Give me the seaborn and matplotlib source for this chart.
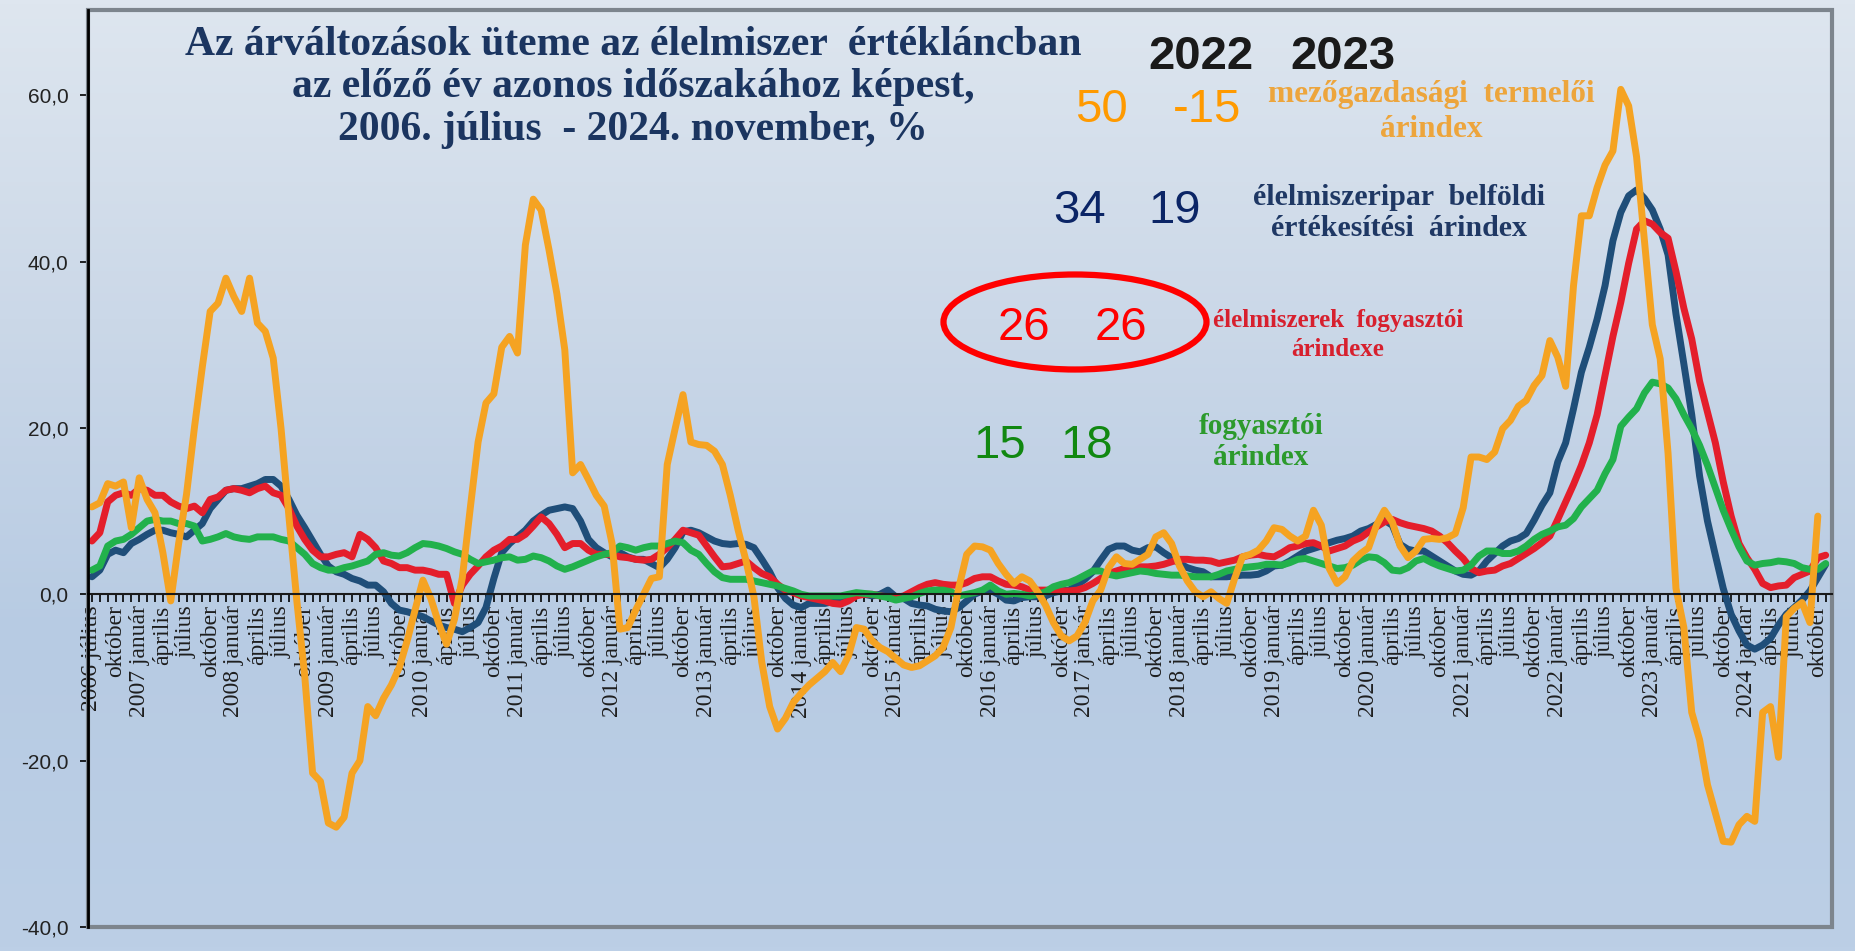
import numpy as np
import pandas as pd
import matplotlib
matplotlib.use("Agg")
import matplotlib.pyplot as plt
from matplotlib.colors import LinearSegmentedColormap
from matplotlib.patches import Ellipse, Rectangle
import seaborn as sns

# Havi adatok, 2006. július - 2024. november (egy sor = egy év)
kezdo_ev = 2006
kezdo_honap = 7
honapok = ["január", "április", "július", "október"]

mezogazdasagi = [
    10.5, 11.0, 13.3, 13.0, 13.5, 8.0,
    14.0, 11.4, 9.8, 5.0, -0.8, 6.1, 12.0, 20.0, 27.3, 34.0, 35.0, 38.0,
    35.8, 34.0, 38.0, 32.6, 31.6, 28.4, 19.9, 9.3, -0.8, -9.8, -21.5, -22.5,
    -27.5, -28.0, -26.8, -21.5, -20.0, -13.5, -14.6, -12.5, -10.9, -8.8, -5.6, -1.9,
    1.7, -0.5, -3.5, -6.0, -3.0, 2.0, 10.3, 18.3, 23.0, 24.1, 29.7, 31.0,
    29.0, 42.0, 47.5, 46.2, 41.4, 36.1, 29.4, 14.6, 15.6, 13.8, 11.9, 10.6,
    6.1, -4.2, -4.0, -1.9, 0.0, 1.9, 2.1, 15.6, 19.9, 24.0, 18.3, 18.0,
    17.9, 17.2, 15.6, 11.9, 7.7, 4.0, -0.3, -8.2, -13.5, -16.2, -14.9, -13.0,
    -11.9, -10.9, -10.1, -9.3, -8.2, -9.3, -7.4, -4.0, -4.2, -5.6, -6.4, -6.9,
    -7.7, -8.5, -8.8, -8.6, -8.0, -7.4, -6.4, -4.0, 0.8, 4.8, 5.8, 5.7,
    5.3, 3.7, 2.4, 1.3, 2.1, 1.6, 0.3, -1.3, -3.4, -5.0, -5.6, -5.0,
    -3.4, -0.8, 0.5, 3.2, 4.5, 3.7, 3.6, 4.2, 4.8, 6.9, 7.4, 6.1,
    3.4, 1.6, 0.3, -0.3, 0.3, -0.5, -1.1, 1.9, 4.5, 4.8, 5.3, 6.4,
    8.0, 7.8, 7.0, 6.4, 7.0, 10.1, 8.3, 3.1, 1.3, 2.1, 4.0, 4.9,
    5.6, 8.3, 10.1, 8.7, 5.8, 4.4, 5.2, 6.6, 6.7, 6.6, 6.8, 7.3,
    10.4, 16.5, 16.5, 16.2, 17.1, 19.9, 20.9, 22.6, 23.3, 25.1, 26.3, 30.5,
    28.5, 25.0, 37.1, 45.5, 45.5, 48.9, 51.6, 53.3, 60.7, 58.7, 52.6, 42.5,
    32.4, 28.3, 16.9, 0.7, -4.0, -14.2, -17.5, -22.9, -26.3, -29.7, -29.8, -27.7,
    -26.7, -27.3, -14.2, -13.5, -19.6, -2.7, -1.7, -1.0, -3.4, 9.4, np.nan,
]

elelmiszeripar = [
    2.1, 2.9, 4.8, 5.3, 5.0, 6.1,
    6.6, 7.2, 7.7, 7.7, 7.4, 7.2, 6.9, 7.7, 8.5, 10.3, 11.4, 12.5,
    12.7, 12.7, 13.0, 13.3, 13.8, 13.8, 13.0, 11.4, 9.5, 8.0, 6.4, 4.8,
    3.4, 2.7, 2.4, 1.9, 1.6, 1.1, 1.1, 0.3, -1.1, -1.9, -2.1, -2.4,
    -2.7, -3.2, -3.7, -4.0, -4.2, -4.5, -4.0, -3.4, -1.6, 1.9, 5.0, 6.1,
    6.9, 7.7, 8.8, 9.5, 10.1, 10.3, 10.5, 10.3, 8.8, 6.6, 5.6, 5.0,
    4.5, 5.0, 4.5, 4.2, 4.2, 3.7, 3.2, 4.2, 5.6, 7.5, 7.7, 7.4,
    6.9, 6.4, 6.1, 6.0, 6.1, 6.0, 5.6, 4.2, 2.7, 0.8, -0.5, -1.3,
    -1.6, -1.1, -1.1, -1.1, -0.9, -0.7, -0.3, 0.0, 0.0, -0.2, 0.0, 0.5,
    -0.3, -0.5, -1.1, -1.3, -1.4, -1.8, -2.0, -2.1, -1.6, -0.8, 0.0, 0.4,
    0.5, 0.0, -0.7, -0.8, -0.4, -0.3, -0.3, -0.2, 0.2, 0.4, 0.5, 1.1,
    1.8, 2.7, 4.1, 5.4, 5.8, 5.8, 5.3, 5.1, 5.6, 5.7, 5.0, 4.4,
    3.7, 3.2, 2.9, 2.7, 2.1, 2.1, 2.1, 2.2, 2.3, 2.3, 2.4, 2.8,
    3.4, 3.5, 4.0, 4.6, 5.2, 5.5, 5.8, 6.2, 6.5, 6.7, 7.0, 7.6,
    7.9, 8.4, 8.9, 8.3, 6.0, 5.4, 5.2, 5.2, 4.6, 4.0, 3.4, 2.8,
    2.4, 2.3, 2.8, 4.0, 4.9, 5.8, 6.4, 6.7, 7.3, 8.9, 10.7, 12.2,
    15.9, 18.2, 22.3, 26.7, 29.7, 33.1, 37.1, 42.5, 45.9, 47.9, 48.6, 47.6,
    46.2, 43.9, 40.8, 33.7, 27.7, 21.6, 14.2, 8.8, 4.7, 0.7, -2.4, -4.4,
    -6.1, -6.6, -6.1, -5.3, -3.7, -2.4, -1.6, -0.7, 0.4, 2.0, 3.6,
]

elelmiszer_fogyasztoi = [
    6.4, 7.4, 11.1, 11.9, 12.2, 11.9,
    12.7, 12.5, 11.9, 11.9, 11.1, 10.6, 10.3, 10.6, 9.8, 11.4, 11.7, 12.5,
    12.7, 12.5, 12.2, 12.7, 13.0, 12.2, 11.9, 10.3, 8.2, 6.6, 5.3, 4.5,
    4.5, 4.8, 5.0, 4.5, 7.2, 6.6, 5.6, 4.0, 3.7, 3.2, 3.2, 2.9,
    2.9, 2.7, 2.4, 2.4, -1.1, 1.1, 2.4, 3.4, 4.5, 5.3, 5.8, 6.6,
    6.6, 7.2, 8.2, 9.3, 8.5, 7.2, 5.6, 6.1, 6.1, 5.3, 4.8, 4.8,
    4.8, 4.5, 4.4, 4.2, 4.1, 4.2, 4.8, 5.6, 6.6, 7.7, 7.4, 7.1,
    5.8, 4.5, 3.3, 3.4, 3.7, 4.0, 3.2, 2.5, 2.1, 1.2, 0.5, 0.2,
    -0.2, -0.4, -0.6, -0.8, -1.1, -1.2, -0.8, -0.2, 0.0, 0.0, -0.2, -0.3,
    -0.4, -0.2, 0.3, 0.8, 1.2, 1.4, 1.2, 1.1, 1.1, 1.4, 1.9, 2.1,
    2.1, 1.6, 1.2, 1.1, 0.9, 0.5, 0.5, 0.5, 0.5, 0.4, 0.4, 0.5,
    0.8, 1.3, 1.9, 2.5, 2.8, 3.1, 3.2, 3.3, 3.3, 3.4, 3.6, 3.9,
    4.2, 4.2, 4.1, 4.1, 4.0, 3.7, 3.9, 4.1, 4.5, 4.7, 4.8, 4.6,
    4.5, 5.0, 5.6, 5.8, 6.1, 6.2, 5.8, 5.2, 5.5, 5.8, 6.4, 6.8,
    7.5, 8.1, 8.7, 9.0, 8.6, 8.3, 8.1, 7.9, 7.6, 7.0, 6.2, 5.2,
    4.3, 3.1, 2.6, 2.8, 2.9, 3.4, 3.7, 4.3, 4.9, 5.5, 6.2, 7.0,
    9.0, 11.1, 13.2, 15.5, 18.2, 21.6, 26.3, 31.0, 35.1, 39.8, 43.9, 44.9,
    44.5, 43.5, 42.8, 38.8, 34.4, 30.7, 25.6, 21.9, 18.2, 13.5, 9.4, 6.1,
    4.4, 3.0, 1.3, 0.8, 1.0, 1.1, 2.0, 2.4, 2.8, 4.4, 4.7,
]

fogyasztoi = [
    2.9, 3.4, 5.8, 6.4, 6.6, 7.2,
    8.0, 8.8, 9.0, 8.8, 8.8, 8.5, 8.5, 8.2, 6.4, 6.6, 6.9, 7.3,
    6.9, 6.7, 6.6, 6.9, 6.9, 6.9, 6.6, 6.4, 5.6, 4.8, 3.7, 3.2,
    2.9, 2.9, 3.2, 3.4, 3.7, 4.0, 4.8, 5.0, 4.7, 4.6, 5.0, 5.6,
    6.1, 6.0, 5.8, 5.5, 5.1, 4.8, 4.2, 3.7, 3.9, 4.1, 4.4, 4.5,
    4.1, 4.2, 4.6, 4.4, 4.0, 3.4, 3.0, 3.3, 3.7, 4.1, 4.5, 4.8,
    5.0, 5.8, 5.6, 5.3, 5.6, 5.8, 5.8, 6.1, 6.4, 6.2, 5.3, 4.8,
    3.7, 2.7, 2.0, 1.8, 1.8, 1.8, 1.6, 1.4, 1.2, 1.0, 0.7, 0.4,
    0.0, -0.2, -0.2, -0.2, -0.2, -0.2, 0.0, 0.2, 0.1, 0.0, -0.2, -0.4,
    -0.7, -0.5, -0.3, 0.1, 0.4, 0.5, 0.5, 0.3, -0.2, 0.0, 0.2, 0.5,
    1.1, 0.4, 0.0, 0.1, 0.0, -0.2, 0.0, 0.3, 0.9, 1.2, 1.4, 1.8,
    2.3, 2.8, 2.8, 2.4, 2.2, 2.4, 2.6, 2.8, 2.7, 2.5, 2.4, 2.3,
    2.3, 2.2, 2.1, 2.1, 2.1, 2.4, 2.8, 3.0, 3.2, 3.3, 3.4, 3.6,
    3.6, 3.5, 3.8, 4.2, 4.3, 4.0, 3.7, 3.4, 3.1, 3.2, 3.5, 4.1,
    4.5, 4.4, 3.8, 2.9, 2.8, 3.2, 4.0, 4.3, 3.8, 3.4, 3.1, 2.8,
    2.9, 3.5, 4.6, 5.2, 5.2, 4.9, 4.9, 5.2, 5.8, 6.6, 7.2, 7.6,
    8.1, 8.3, 9.1, 10.5, 11.5, 12.5, 14.5, 16.2, 20.2, 21.3, 22.3, 24.2,
    25.5, 25.3, 24.8, 23.5, 21.6, 19.9, 17.9, 15.5, 12.8, 10.1, 7.8, 5.7,
    4.0, 3.5, 3.7, 3.8, 4.0, 3.9, 3.7, 3.2, 3.0, 3.0, 3.7,
]

sorozatok = ["élelmiszeripar", "élelmiszer fogyasztói", "fogyasztói", "mezőgazdasági"]
szinek = ["#1f4e79", "#e41e2b", "#22b14c", "#f5a322"]

# kiemelt éves értékek (2022, 2023)
evek = ["2022", "2023"]
mezogazdasagi_ev = ["50", "-15"]
elelmiszeripar_ev = ["34", "19"]
elelmiszer_fogyasztoi_ev = ["26", "26"]
fogyasztoi_ev = ["15", "18"]

cim_sorok = [
    "Az árváltozások üteme az élelmiszer  értékláncban",
    "az előző év azonos időszakához képest,",
    "2006. július  - 2024. november, %",
]

W, H = 1856, 951


def px(x, y):
    # képpont -> figura koordináta
    return x / W, 1 - y / H


df = pd.DataFrame({
    "élelmiszeripar": elelmiszeripar,
    "élelmiszer fogyasztói": elelmiszer_fogyasztoi,
    "fogyasztói": fogyasztoi,
    "mezőgazdasági": mezogazdasagi,
})
df["ho"] = np.arange(len(df))
hosszu = df.melt(id_vars="ho", var_name="sorozat", value_name="ertek")

# tengely feliratok (negyedévente)
tick_pos = list(range(0, len(df), 3))
tick_labels = []
for i in tick_pos:
    h = kezdo_honap - 1 + i
    ev = kezdo_ev + h // 12
    nev = honapok[(h % 12) // 3]
    if i == 0 or h % 12 == 0:
        nev = f"{ev} {nev}"
    tick_labels.append(nev)

sns.set_theme(style="white")
plt.rcParams["font.family"] = ["Liberation Serif", "DejaVu Serif"]

fig = plt.figure(figsize=(W / 100, H / 100), dpi=100)

# háttér színátmenet
bg = fig.add_axes([0, 0, 1, 1], zorder=-5)
cmap = LinearSegmentedColormap.from_list("hatter", ["#dee6ef", "#cbd8e8", "#b7cbe3", "#bccfe6"])
bg.imshow(np.linspace(0, 1, 256).reshape(-1, 1), aspect="auto", cmap=cmap,
          extent=[0, 1, 0, 1])
bg.axis("off")

ax = fig.add_axes([88 / W, 1 - 927 / H, (1832 - 88) / W, (927 - 9.5) / H])
ax.set_facecolor("none")

sns.lineplot(data=hosszu, x="ho", y="ertek", hue="sorozat", hue_order=sorozatok,
             palette=szinek, estimator=None, linewidth=5, legend=False, ax=ax)

ax.set_xlim(-0.5, 220.8)
ax.set_ylim(-40, 70.3)
ax.set_xlabel("")
ax.set_ylabel("")

ax.set_xticks(range(len(df)), minor=True)
ax.set_xticks(tick_pos)
ax.set_xticklabels(tick_labels)
ax.tick_params(axis="x", which="both", direction="out", length=6, width=1.2,
               color="black", pad=2, bottom=True)
ax.tick_params(axis="x", which="major", labelrotation=90, labelsize=17,
               labelcolor="#1e1e1e")
for lbl in ax.get_xticklabels():
    lbl.set_rotation(90)
    lbl.set_verticalalignment("top")
    lbl.set_horizontalalignment("center")
    lbl.set_family("Liberation Serif")

yt = [-40, -20, 0, 20, 40, 60]
ax.set_yticks(yt)
ax.set_yticklabels([f"{v:.1f}".replace(".", ",") for v in yt])
ax.tick_params(axis="y", direction="out", length=6, width=1.2, color="black",
               pad=8, left=True, labelsize=15, labelcolor="#222222")
for lbl in ax.get_yticklabels():
    lbl.set_family("Liberation Sans")

# keret és tengelyek
for s in ["top", "right"]:
    ax.spines[s].set_visible(False)
ax.add_patch(Rectangle((0, 0), 1, 1, transform=ax.transAxes, fill=False,
                       ec="#7d858d", lw=3, zorder=1, clip_on=False))
ax.spines["bottom"].set_position(("data", 0))
ax.spines["bottom"].set_color("#1a1a1a")
ax.spines["bottom"].set_linewidth(1.5)
ax.spines["left"].set_color("black")
ax.spines["left"].set_linewidth(2)
ax.spines["left"].set_zorder(3)

# cím, soronként
for y, sor in zip([45, 87, 130], cim_sorok):
    fig.text(*px(633, y), sor, ha="center", va="center", fontsize=30,
             fontweight="bold", color="#1b3560", family="Liberation Serif")

# sorozat feliratok
fig.text(*px(1431, 112), "mezőgazdasági  termelői\nárindex", ha="center", va="center",
         fontsize=22.5, fontweight="bold", color="#eda53c", linespacing=1.25)
fig.text(*px(1399, 213), "élelmiszeripar  belföldi\nértékesítési  árindex", ha="center",
         va="center", fontsize=21.5, fontweight="bold", color="#1f3864", linespacing=1.2)
fig.text(*px(1338, 335), "élelmiszerek  fogyasztói\nárindexe", ha="center", va="center",
         fontsize=18, fontweight="bold", color="#d7202e", linespacing=1.3)
fig.text(*px(1261, 442), "fogyasztói\nárindex", ha="center", va="center",
         fontsize=21, fontweight="bold", color="#2c9a2c", linespacing=1.2)

# kiemelt számok
nagy = dict(ha="center", va="center", fontsize=34, family="Liberation Sans")
for x, t in zip([1201, 1343], evek):
    fig.text(*px(x, 57), t, color="#1a1a1a", fontweight="bold", **nagy)
for x, t in zip([1101, 1207], mezogazdasagi_ev):
    fig.text(*px(x, 110), t, color="#ff9a00", **nagy)
for x, t in zip([1080, 1175], elelmiszeripar_ev):
    fig.text(*px(x, 211), t, color="#0b2566", **nagy)
for x, t in zip([1024, 1121], elelmiszer_fogyasztoi_ev):
    fig.text(*px(x, 328), t, color="#ff0000", **nagy)
for x, t in zip([1000, 1087], fogyasztoi_ev):
    fig.text(*px(x, 446), t, color="#118811", **nagy)

fig.add_artist(Ellipse(px(1075, 322), 263 / W, 95 / H, transform=fig.transFigure,
                       fill=False, ec="#ff0000", lw=4.5))

fig.savefig("out.png", dpi=100)
